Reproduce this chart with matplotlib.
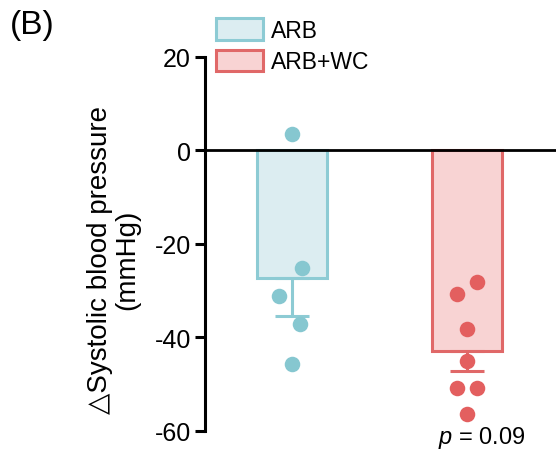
import matplotlib
matplotlib.use("Agg")
import matplotlib.pyplot as plt
import numpy as np
from matplotlib.patches import Patch

plt.rcParams['font.family'] = ['Liberation Sans', 'DejaVu Sans']
plt.rcParams['mathtext.fontset'] = 'custom'
plt.rcParams['mathtext.it'] = 'Liberation Sans:italic'
plt.rcParams['mathtext.rm'] = 'Liberation Sans'

groups = ["ARB", "ARB+WC"]
arb_points = [3.4, -25.2, -31.2, -37.2, -45.6]
arb_wc_points = [-28.2, -30.8, -38.1, -45.1, -50.9, -50.9, -56.3]
point_offsets = [[0.0, 0.06, -0.075, 0.045, 0.0],
                 [0.06, -0.055, 0.0, 0.0, -0.055, 0.06, 0.0]]
means = [-27.2, -43.0]
sems = [8.3, 4.1]
yticks = [20, 0, -20, -40, -60]

fill_colors = ["#dcedf1", "#f8d3d3"]
edge_colors = ["#8dcbd4", "#e06868"]
dot_colors = ["#86c7d0", "#e35f5f"]

fig = plt.figure(figsize=(5.56, 4.6), dpi=100)
ax = fig.add_axes([0.3687, 0.0609, 0.6313, 0.8133])

x = np.arange(len(groups))
for i in range(len(groups)):
    ax.bar(x[i], means[i], width=0.405, color=fill_colors[i], edgecolor=edge_colors[i],
           linewidth=2.2, zorder=2, label=groups[i])
    ax.errorbar(x[i], means[i], yerr=[[sems[i]], [0]], fmt='none', ecolor=edge_colors[i],
                elinewidth=2.2, capsize=12, capthick=2.2, zorder=3)
pts = [arb_points, arb_wc_points]
for i in range(len(groups)):
    ax.scatter(x[i] + np.array(point_offsets[i]), pts[i], s=125, color=dot_colors[i],
               zorder=4, linewidths=0)

ax.axhline(0, color='black', linewidth=2.0, zorder=5)
ax.set_xlim(-0.497, 1.509)
ax.set_ylim(-60, 20)
ax.set_yticks(yticks)
ax.set_yticklabels([str(t) for t in yticks], fontsize=18)
ax.set_xticks([])
for s in ['top', 'right', 'bottom']:
    ax.spines[s].set_visible(False)
ax.spines['left'].set_linewidth(2.2)
ax.spines['left'].set_bounds(-60, 20)
ax.tick_params(axis='y', direction='out', length=7, width=2.2, pad=3)
ax.patch.set_alpha(0)

ax.set_ylabel("△Systolic blood pressure\n(mmHg)", fontsize=20, linespacing=1.05)
ax.yaxis.set_label_coords(-0.185, 0.46)

handles = [Patch(facecolor=fill_colors[i], edgecolor=edge_colors[i], linewidth=2.2)
           for i in range(2)]
fig.legend(handles, groups, loc='upper left', bbox_to_anchor=(0.388, 0.958),
           frameon=False, fontsize=16.5, handlelength=2.05, handleheight=1.08,
           handletextpad=0.35, labelspacing=0.33, borderaxespad=0, borderpad=0)

fig.text(0.018, 0.978, "(B)", fontsize=24, va='top', ha='left')
fig.text(0.867, 0.047, r"$p$ = 0.09", fontsize=17, ha='center', va='center')

fig.savefig("out.png", dpi=100)
